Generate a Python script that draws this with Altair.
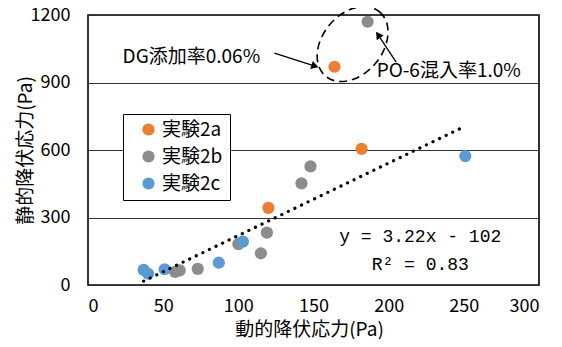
import altair as alt
import pandas as pd

FONT = "Noto Sans CJK JP"
MONO = "Liberation Mono, Noto Sans CJK JP"

# ---- data ----
series_names = ["実験2a", "実験2b", "実験2c"]
series_colors = ["#ED7D31", "#8C8C8C", "#5B9BD5"]

x_2a = [120, 164, 182]
y_2a = [343, 970, 605]
x_2b = [58, 61, 73, 100, 115, 119, 142, 148, 186]
y_2b = [58, 65, 72, 182, 141, 233, 452, 527, 1170]
x_2c = [37, 40, 51, 87, 103, 251]
y_2c = [67, 50, 70, 99, 193, 573]

slope = 3.22
intercept = -102
eq_labels = ["y = 3.22x - 102", "R² = 0.83"]
eq_x = [221, 221]
eq_y = [213, 89]

x_ticks = [0, 50, 100, 150, 200, 250, 300]
y_ticks = [0, 300, 600, 900, 1200]

ann_labels = ["DG添加率0.06%", "PO-6混入率1.0%"]
ann_x = [23, 192]
ann_y = [1013, 951]
arrow_x = [124, 205]
arrow_y = [1031, 991]
arrow_x2 = [151, 193]
arrow_y2 = [973, 1112]
arrow_angle = [18, 236]
ellipse_x = [176]
ellipse_y = [1071]

# ---- tables ----
rows = []
for name, xs, ys in zip(series_names, [x_2a, x_2b, x_2c], [y_2a, y_2b, y_2c]):
    for xv, yv in zip(xs, ys):
        rows.append({"series": name, "x": xv, "y": yv})
pts = pd.DataFrame(rows)

all_x = x_2a + x_2b + x_2c
trend = pd.DataFrame({"x": [min(all_x), max(all_x)]})
trend["y"] = slope * trend["x"] + intercept

eq_df = pd.DataFrame({"t": eq_labels, "x": eq_x, "y": eq_y})
ann_df = pd.DataFrame({"t": ann_labels, "x": ann_x, "y": ann_y})
arr_df = pd.DataFrame({"x": arrow_x, "y": arrow_y, "x2": arrow_x2, "y2": arrow_y2, "a": arrow_angle})
ell_df = pd.DataFrame({"x": ellipse_x, "y": ellipse_y})

xs = alt.Scale(domain=[0, 300], nice=False)
ys = alt.Scale(domain=[0, 1200], nice=False)

points = alt.Chart(pts).mark_circle(size=150, opacity=1).encode(
    x=alt.X("x:Q", scale=xs, axis=alt.Axis(values=x_ticks, title="動的降伏応力(Pa)", grid=False,
                                            ticks=False, domain=False,
                                            titleX=221, titleY=44, titleBaseline="middle",
                                            format="d")),
    y=alt.Y("y:Q", scale=ys, axis=alt.Axis(values=y_ticks, title="静的降伏応力(Pa)", grid=True,
                                            ticks=False, domain=False,
                                            titleX=-63, titleY=135, titleBaseline="middle",
                                            titleAngle=270, titleAlign="center", format="d")),
    color=alt.Color("series:N", scale=alt.Scale(domain=series_names, range=series_colors),
                    legend=alt.Legend(title="　", titleOrient="right", titleFontSize=8,
                                      titlePadding=2, orient="none", legendX=35, legendY=99,
                                      strokeColor="black", fillColor="white", padding=6,
                                      labelFontSize=19, labelFont=FONT, symbolSize=150,
                                      symbolType="circle", rowPadding=7, symbolOffset=10,
                                      labelOffset=4, labelColor="black")),
)

trend_line = alt.Chart(trend).mark_line(color="black", strokeWidth=3.2, strokeDash=[0.1, 7.2],
                                        strokeCap="round").encode(
    x=alt.X("x:Q", scale=xs), y=alt.Y("y:Q", scale=ys))

eq_text = alt.Chart(eq_df).mark_text(fontSize=18, font=MONO, align="center", baseline="middle",
                                     color="black").encode(
    x=alt.X("x:Q", scale=xs), y=alt.Y("y:Q", scale=ys), text="t:N")

ann_text = alt.Chart(ann_df).mark_text(fontSize=19, font=FONT, align="left", baseline="middle",
                                       color="black").encode(
    x=alt.X("x:Q", scale=xs), y=alt.Y("y:Q", scale=ys), text="t:N")

arrows = alt.Chart(arr_df).mark_rule(color="black", strokeWidth=1.3).encode(
    x=alt.X("x:Q", scale=xs), y=alt.Y("y:Q", scale=ys), x2="x2:Q", y2="y2:Q")

heads = alt.Chart(arr_df).mark_point(shape="triangle-right", filled=True, color="black",
                                     size=70, opacity=1).encode(
    x=alt.X("x2:Q", scale=xs), y=alt.Y("y2:Q", scale=ys), angle=alt.Angle("a:Q", scale=None))

ellipse_path = ("M0,-1 C0.394,-1 0.714,-0.552 0.714,0 C0.714,0.552 0.394,1 0,1 "
                "C-0.394,1 -0.714,0.552 -0.714,0 C-0.714,-0.552 -0.394,-1 0,-1 Z")
ellipse = alt.Chart(ell_df).mark_point(shape=ellipse_path, filled=False, stroke="black",
                                       strokeWidth=1.6, strokeDash=[8, 5], size=7056,
                                       angle=40, opacity=1).encode(
    x=alt.X("x:Q", scale=xs), y=alt.Y("y:Q", scale=ys))

chart = alt.layer(points, trend_line, eq_text, ann_text, arrows, heads, ellipse).properties(
    width=451, height=270,
    background="white",
    autosize=alt.AutoSizeParams(type="none"),
    padding={"left": 80, "top": 7, "right": 15, "bottom": 54},
).configure_view(stroke="black", strokeWidth=1.6).configure_axis(
    labelFont=FONT, titleFont=FONT, labelFontSize=18, titleFontSize=19, labelColor="black",
    titleColor="black", titleFontWeight="normal", gridColor="#333333", gridWidth=1,
).configure_axisX(labelPadding=12).configure_axisY(labelPadding=18)

chart.save("out.html", embed_options={"renderer": "svg", "actions": False})
